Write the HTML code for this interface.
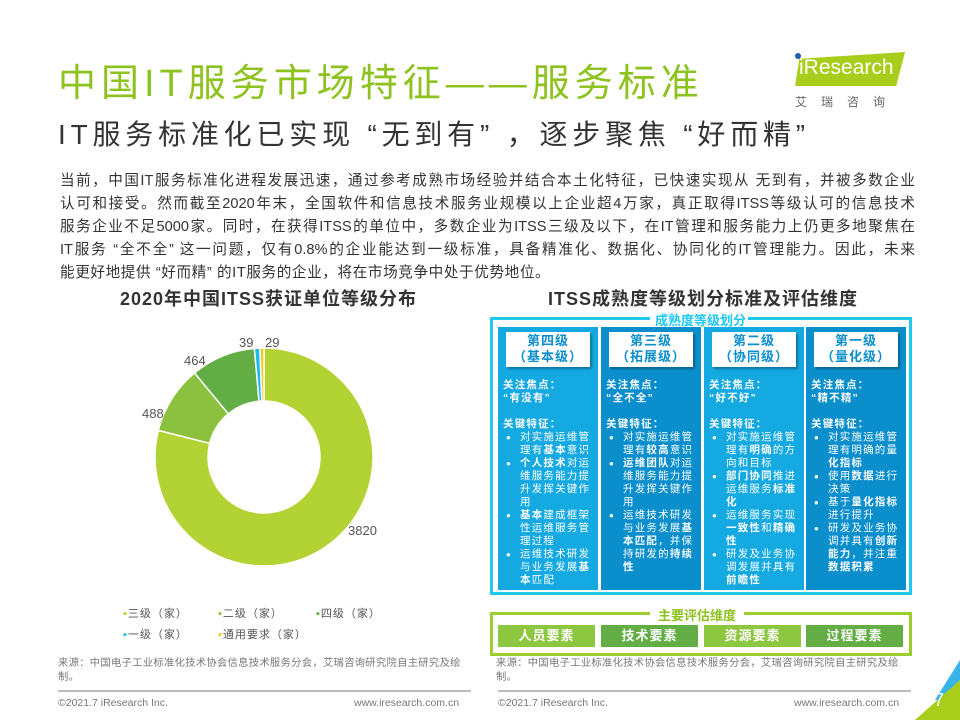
<!DOCTYPE html>
<html><head><meta charset="utf-8"><style>
body{margin:0;width:960px;height:720px;overflow:hidden;background:#fff;font-family:"Liberation Sans","Noto Sans CJK SC",sans-serif;position:relative}
.a{position:absolute;white-space:nowrap}
.col{position:absolute;top:327px;width:100px;height:263px;color:#fff;font-size:10.5px;line-height:13px}
.hd{position:absolute;left:8px;top:5px;width:84px;height:34px;background:#fff;color:#0a8fcc;font-weight:bold;font-size:13px;line-height:16px;text-align:center;padding-top:1px;box-shadow:2px 2px 2px rgba(0,0,0,.3);letter-spacing:1px}
.bd{position:absolute;left:5px;top:52px;width:92px;white-space:normal;letter-spacing:1.2px}
.bd ul{margin:0;padding:0 0 0 17px}
.bd li{list-style:none;position:relative}
.bd li:before{content:"●";position:absolute;left:-14px;font-size:8px}
.btn{position:absolute;top:625px;height:22px;width:97px;color:#fff;font-weight:bold;font-size:13px;line-height:22px;text-align:center;letter-spacing:1px}
.p{position:absolute;left:60px;width:855px;font-size:14.6px;color:#333;text-align:justify;text-align-last:justify;white-space:nowrap}
</style></head><body>
<div class="a" style="left:58px;top:52px;font-size:38px;color:#8dc21f;letter-spacing:5px">中国IT服务市场特征——服务标准</div>
<div class="a" style="left:58px;top:113px;font-size:28px;color:#333;letter-spacing:4.8px">IT服务标准化已实现 “无到有” ，逐步聚焦 “好而精”</div>
<div class="a" style="left:795px;top:52px;width:110px;height:34px;background:#a8cd1b;clip-path:polygon(4% 20%,100% 0,92% 100%,0 100%)"></div>
<div class="a" style="left:799px;top:56px;font-size:21px;color:#fff">iResearch</div>
<div class="a" style="left:795px;top:53px;width:6px;height:6px;border-radius:50%;background:#1f5fae"></div>
<div class="a" style="left:795px;top:93px;font-size:12px;color:#666;letter-spacing:14px">艾瑞咨询</div>
<div class="p" style="top:169px">当前，中国IT服务标准化进程发展迅速，通过参考成熟市场经验并结合本土化特征，已快速实现从 无到有，并被多数企业</div>
<div class="p" style="top:192px">认可和接受。然而截至2020年末，全国软件和信息技术服务业规模以上企业超4万家，真正取得ITSS等级认可的信息技术</div>
<div class="p" style="top:215px">服务企业不足5000家。同时，在获得ITSS的单位中，多数企业为ITSS三级及以下，在IT管理和服务能力上仍更多地聚焦在</div>
<div class="p" style="top:238px">IT服务 “全不全” 这一问题，仅有0.8%的企业能达到一级标准，具备精准化、数据化、协同化的IT管理能力。因此，未来</div>
<div class="a" style="left:60px;top:261px;font-size:14.6px;color:#333;letter-spacing:0.6px">能更好地提供 “好而精” 的IT服务的企业，将在市场竞争中处于优势地位。</div>
<div class="a" style="left:120px;top:285px;font-size:18px;font-weight:bold;color:#333;letter-spacing:1px">2020年中国ITSS获证单位等级分布</div>
<div class="a" style="left:548px;top:285px;font-size:18px;font-weight:bold;color:#333;letter-spacing:1px">ITSS成熟度等级划分标准及评估维度</div>
<svg class="a" style="left:0;top:0" width="960" height="720" id="pie"></svg>
<div class="a" style="left:348px;top:523px;font-size:13px;color:#555">3820</div>
<div class="a" style="left:142px;top:406px;font-size:13px;color:#555">488</div>
<div class="a" style="left:184px;top:353px;font-size:13px;color:#555">464</div>
<div class="a" style="left:239px;top:335px;font-size:13px;color:#555">39</div>
<div class="a" style="left:265px;top:335px;font-size:13px;color:#555">29</div>
<div class="a" style="left:123px;top:604px;font-size:11px;color:#555;line-height:21px;letter-spacing:1px">
<span style="display:inline-block;width:95px"><span style="color:#b3d234">▪</span>三级（家）</span><span style="display:inline-block;width:98px"><span style="color:#8cc13f">▪</span>二级（家）</span><span style="color:#62ae45">▪</span>四级（家）<br>
<span style="display:inline-block;width:95px"><span style="color:#1fb9ec">▪</span>一级（家）</span><span style="color:#f5c918">▪</span>通用要求（家）</div>
<div class="a" style="left:490px;top:317px;width:416px;height:275px;border:3px solid #1ec8f0;border-top:none"></div>
<div class="a" style="left:490px;top:317px;width:160px;height:3px;background:#1ec8f0"></div>
<div class="a" style="left:748px;top:317px;width:161px;height:3px;background:#1ec8f0"></div>
<div class="a" style="left:653px;top:310px;font-size:13px;font-weight:bold;color:#1ec8f0;background:#fff;padding:0 2px">成熟度等级划分</div>
<div class="col" style="left:498px;background:#15a9e1"><div class="hd">第四级<br>（基本级）</div><div class="bd"><b>关注焦点：<br>“有没有”</b><br><br><b>关键特征：</b><ul><li>对实施运维管理有<b>基本</b>意识</li><li><b>个人技术</b>对运维服务能力提升发挥关键作用</li><li><b>基本</b>建成框架性运维服务管理过程</li><li>运维技术研发与业务发展<b>基本</b>匹配</li></ul></div></div>
<div class="col" style="left:601px;background:#0a8fcc"><div class="hd">第三级<br>（拓展级）</div><div class="bd"><b>关注焦点：<br>“全不全”</b><br><br><b>关键特征：</b><ul><li>对实施运维管理有<b>较高</b>意识</li><li><b>运维团队</b>对运维服务能力提升发挥关键作用</li><li>运维技术研发与业务发展<b>基本匹配</b>，并保持研发的<b>持续性</b></li></ul></div></div>
<div class="col" style="left:704px;background:#15a9e1"><div class="hd">第二级<br>（协同级）</div><div class="bd"><b>关注焦点：<br>“好不好”</b><br><br><b>关键特征：</b><ul><li>对实施运维管理有<b>明确</b>的方向和目标</li><li><b>部门协同</b>推进运维服务<b>标准化</b></li><li>运维服务实现<b>一致性</b>和<b>精确性</b></li><li>研发及业务协调发展并具有<b>前瞻性</b></li></ul></div></div>
<div class="col" style="left:806px;background:#0a8fcc"><div class="hd">第一级<br>（量化级）</div><div class="bd"><b>关注焦点：<br>“精不精”</b><br><br><b>关键特征：</b><ul><li>对实施运维管理有明确的量<b>化指标</b></li><li>使用<b>数据</b>进行决策</li><li>基于<b>量化指标</b>进行提升</li><li>研发及业务协调并具有<b>创新能力</b>，并注重<b>数据积累</b></li></ul></div></div>
<div class="a" style="left:490px;top:612px;width:416px;height:38px;border:3px solid #9ccc2e"></div>
<div class="a" style="left:650px;top:605px;background:#fff;padding:0 8px;font-size:13px;font-weight:bold;color:#8dc21f">主要评估维度</div>
<div class="btn" style="left:498px;background:#8dc63f">人员要素</div>
<div class="btn" style="left:601px;background:#62ae45">技术要素</div>
<div class="btn" style="left:704px;background:#8dc63f">资源要素</div>
<div class="btn" style="left:806px;background:#62ae45">过程要素</div>
<div class="a" style="left:58px;top:657px;width:408px;white-space:normal;font-size:10.3px;line-height:14px;color:#777;letter-spacing:0.3px">来源：中国电子工业标准化技术协会信息技术服务分会，艾瑞咨询研究院自主研究及绘制。</div>
<div class="a" style="left:496px;top:657px;width:408px;white-space:normal;font-size:10.3px;line-height:14px;color:#777;letter-spacing:0.3px">来源：中国电子工业标准化技术协会信息技术服务分会，艾瑞咨询研究院自主研究及绘制。</div>
<div class="a" style="left:58px;top:690px;width:413px;height:2px;background:#bbb"></div>
<div class="a" style="left:498px;top:690px;width:413px;height:2px;background:#bbb"></div>
<div class="a" style="left:58px;top:697px;font-size:10.5px;color:#777">©2021.7 iResearch Inc.</div>
<div class="a" style="left:354px;top:697px;font-size:10.5px;color:#777">www.iresearch.com.cn</div>
<div class="a" style="left:498px;top:697px;font-size:10.5px;color:#777">©2021.7 iResearch Inc.</div>
<div class="a" style="left:794px;top:697px;font-size:10.5px;color:#777">www.iresearch.com.cn</div>
<svg class="a" style="left:900px;top:660px" width="60" height="60"><polygon points="60,0 60,40 35,40" fill="#39b4e8"/><polygon points="60,20 60,60 15,60" fill="#a8cd1b"/></svg>
<div class="a" style="left:934px;top:690px;font-size:18px;color:#fff">7</div>
<script>
var d=[[3820,"#b3d234"],[488,"#8cc13f"],[464,"#62ae45"],[39,"#1fb9ec"],[29,"#f5c918"]],t=4840,cx=264,cy=457,R=109,r=56,a=0,s="";
function p(ang,rad){return [cx+rad*Math.sin(ang),cy-rad*Math.cos(ang)];}
d.forEach(function(e){var b=a+e[0]/t*2*Math.PI,l=(b-a)>Math.PI?1:0,A=p(a,R),B=p(b,R),C=p(b,r),D=p(a,r);
s+='<path d="M'+A+' A'+R+' '+R+' 0 '+l+' 1 '+B+' L'+C+' A'+r+' '+r+' 0 '+l+' 0 '+D+'Z" fill="'+e[1]+'" stroke="#fff" stroke-width="1.5"/>';a=b;});
document.getElementById("pie").innerHTML=s;
</script>
</body></html>
